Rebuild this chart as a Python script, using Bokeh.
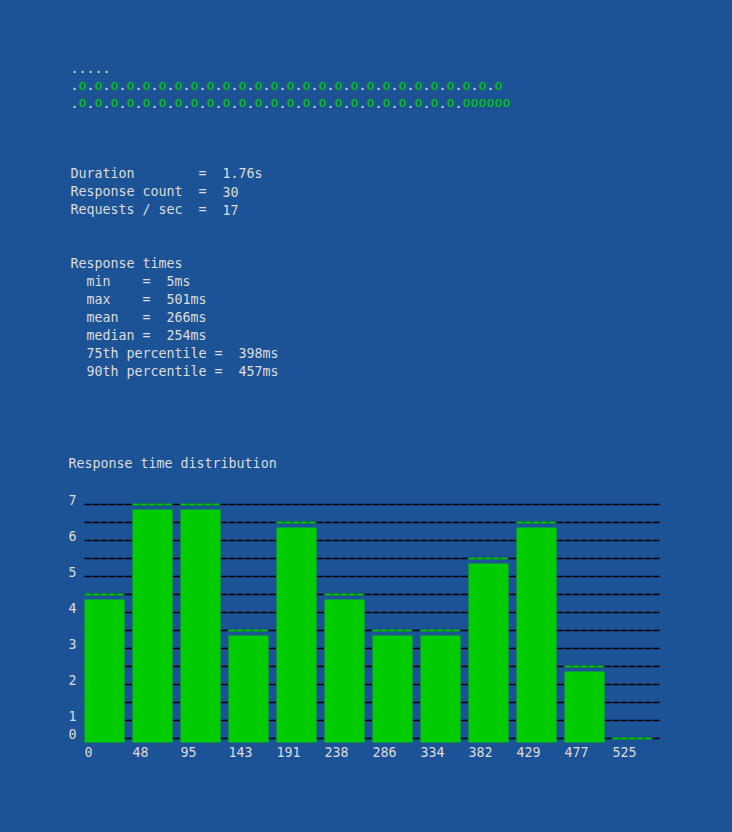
import re
from bokeh.plotting import figure
from bokeh.models import Range1d
from bokeh.core.properties import value
from bokeh.embed import file_html
from bokeh.resources import INLINE

# ---------------- data ----------------
progress_rows = [
    ".....",
    ".o.o.o.o.o" ".o.o.o.o.o" ".o.o.o.o.o" ".o.o.o.o.o" ".o.o.o.o.o" ".o.o",
    ".o.o.o.o.o" ".o.o.o.o.o" ".o.o.o.o.o" ".o.o.o.o.o" ".o.o.o.o" ".oooooo",
]
summary_lines = [
    "Duration        =  1.76s",
    "Response count  =  30",
    "Requests / sec  =  17",
]
times_lines = [
    "Response times",
    "  min    =  5ms",
    "  max    =  501ms",
    "  mean   =  266ms",
    "  median =  254ms",
    "  75th percentile =  398ms",
    "  90th percentile =  457ms",
]
chart_title = "Response time distribution"
bin_labels = ["0", "48", "95", "143", "191", "238", "286", "334", "382", "429", "477", "525"]
bin_counts = [4, 6.5, 6.5, 3, 6, 4, 3, 3, 5, 6, 2, 0]
y_tick_labels = ["0", "1", "2", "3", "4", "5", "6", "7"]
grid_levels = [0, 0.5, 1, 1.5, 2, 2.5, 3, 3.5, 4, 4.5, 5, 5.5, 6, 6.5]

# ---------------- style / layout ----------------
BG = "#1c5296"
FG = "#dcdcdc"
GREEN = "#00cc00"
FONT = "DejaVu Sans Mono"
FS = "13.3px"
CW = 8            # terminal character cell width (px)
W, H = 732, 832
PLOT_LEFT = 84    # page x of bin 0
SLOT = 48.0       # px per histogram bin
ZERO_Y = 738      # page y of count 0
PX = 36.0         # px per count unit
BAR_W = 40 / SLOT
LIFT = -5         # text vertical correction (px)

p = figure(width=W, height=H,
           x_range=Range1d(-PLOT_LEFT / SLOT, (W - PLOT_LEFT) / SLOT),
           y_range=Range1d(-(H - ZERO_Y) / PX, ZERO_Y / PX),
           output_backend="svg", toolbar_location=None, min_border=0,
           x_axis_location=None, y_axis_location=None,
           background_fill_color=BG, border_fill_color=BG, outline_line_color=None,
           styles={"background-color": BG})
p.grid.visible = False
p.extra_x_ranges = {"page": Range1d(0, W)}
p.extra_y_ranges = {"page": Range1d(H, 0)}

TXT = dict(text_font=value(FONT), text_font_size=FS, text_baseline="alphabetic")


def add_runs(lines, x0, y0, dy, pattern, color_fn):
    xs, ys, ts, cs = [], [], [], []
    for r, line in enumerate(lines):
        for m in re.finditer(pattern, line):
            xs.append(x0 + CW * m.start())
            ys.append(y0 + dy * r)
            ts.append(m.group())
            cs.append(color_fn(m.group()))
    p.text(x=xs, y=ys, text=ts, text_color=cs, text_align="left", y_offset=LIFT,
           x_range_name="page", y_range_name="page", **TXT)


WORDS = r"\S+(?: \S+)*"
add_runs(progress_rows, 70, 72, 17.5, r"\.+|o+", lambda s: GREEN if s[0] == "o" else FG)
add_runs(summary_lines, 70, 178, 18, WORDS, lambda s: FG)
add_runs(times_lines, 70, 268, 18, WORDS, lambda s: FG)
add_runs([chart_title], 68, 468, 18, WORDS, lambda s: FG)

# ---------------- histogram ----------------
n = len(bin_counts)
idx = list(range(n))

# dashed grid rows
p.segment(x0=0, x1=n, y0=grid_levels, y1=grid_levels,
          line_color="#000000", line_width=1.5, line_dash="7 1")

# bar bodies (start a little below the zero row, stop a few px under the top marker)
body = [(i, c) for i, c in zip(idx, bin_counts) if c > 0]
p.quad(left=[i for i, c in body], right=[i + BAR_W for i, c in body],
       top=[c - 5 / PX for i, c in body], bottom=-4 / PX,
       fill_color=GREEN, line_color=None)
# top markers
p.segment(x0=idx, x1=[i + BAR_W for i in idx], y0=bin_counts, y1=bin_counts,
          line_color=GREEN, line_width=2, line_dash="7 1")

# x tick labels (left-aligned under each bar)
p.text(x=idx, y=0, text=bin_labels, y_offset=18 + LIFT, text_color=FG,
       text_align="left", **TXT)

# y tick labels (terminal rows: "0" on the zero row, "k" on row k-0.5)
y_label_pos = [0] + [int(l) - 0.5 for l in y_tick_labels[1:]]
p.text(x=0, y=y_label_pos, text=y_tick_labels, x_offset=-8, y_offset=LIFT,
       text_color=FG, text_align="right", **TXT)

open("out.html", "w").write(file_html(p, INLINE))
